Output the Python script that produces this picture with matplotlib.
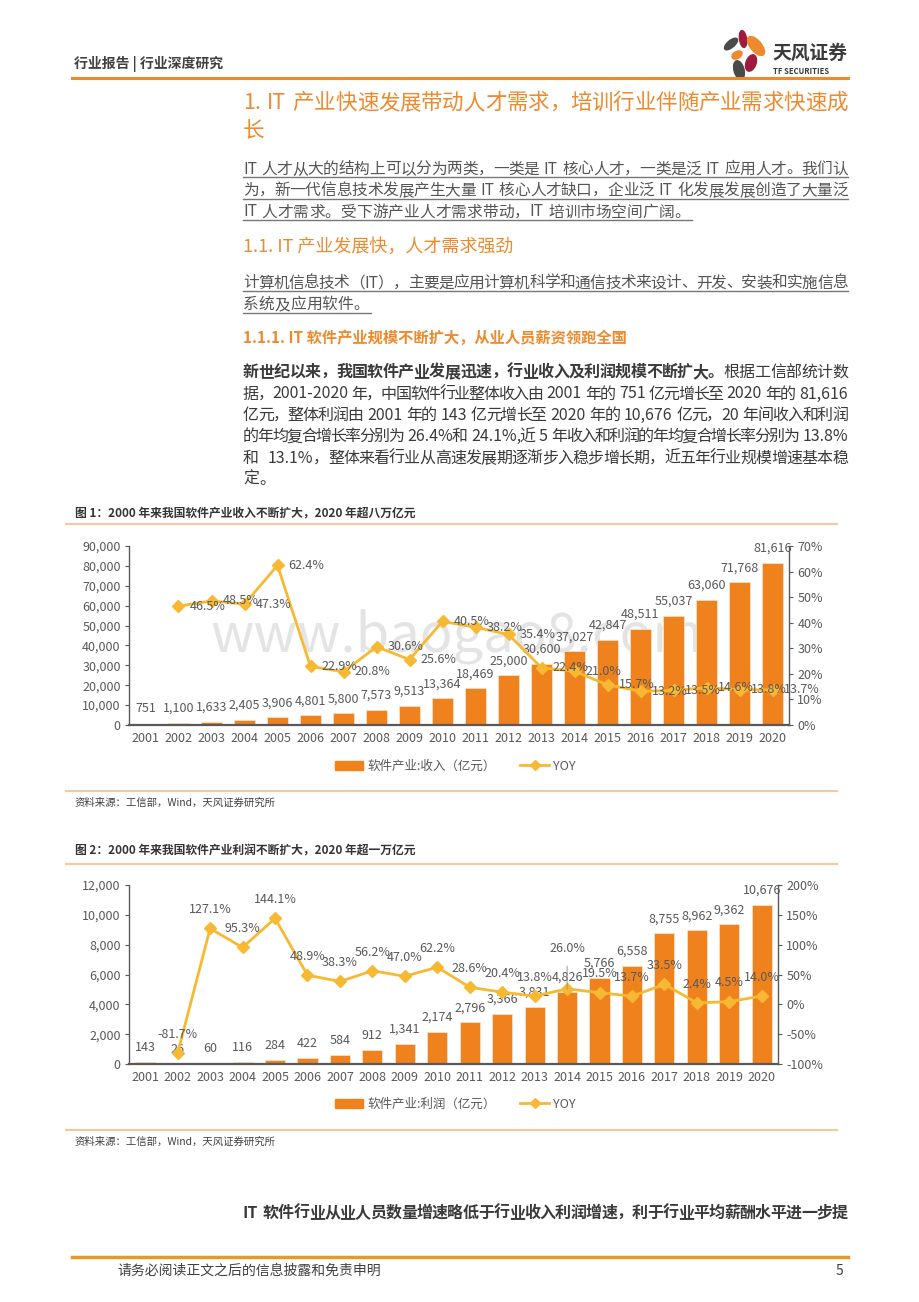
import re
import matplotlib
matplotlib.use("Agg")
import matplotlib.pyplot as plt
from matplotlib.patches import Ellipse, Patch
from matplotlib.lines import Line2D
from matplotlib.ticker import FuncFormatter, MultipleLocator

plt.rcParams['font.family'] = ['Noto Sans CJK SC', 'DejaVu Sans']

# data
years = [str(y) for y in range(2001, 2021)]
revenue = [751, 1100, 1633, 2405, 3906, 4801, 5800, 7573, 9513, 13364,
           18469, 25000, 30600, 37027, 42847, 48511, 55037, 63060, 71768, 81616]
revenue_yoy = [None, 46.5, 48.5, 47.3, 62.4, 22.9, 20.8, 30.6, 25.6, 40.5,
               38.2, 35.4, 22.4, 21.0, 15.7, 13.2, 13.5, 14.6, 13.8, 13.7]
profit = [143, 26, 60, 116, 284, 422, 584, 912, 1341, 2174,
          2796, 3366, 3831, 4826, 5766, 6558, 8755, 8962, 9362, 10676]
profit_yoy = [None, -81.7, 127.1, 95.3, 144.1, 48.9, 38.3, 56.2, 47.0, 62.2,
              28.6, 20.4, 13.8, 26.0, 19.5, 13.7, 33.5, 2.4, 4.5, 14.0]

para1 = ["IT 人才从大的结构上可以分为两类，一类是 IT 核心人才，一类是泛 IT 应用人才。我们认",
         "为，新一代信息技术发展产生大量 IT 核心人才缺口，企业泛 IT 化发展发展创造了大量泛",
         "IT 人才需求。受下游产业人才需求带动，IT 培训市场空间广阔。"]
para2 = ["计算机信息技术（IT），主要是应用计算机科学和通信技术来设计、开发、安装和实施信息",
         "系统及应用软件。"]
body = ["据，2001-2020 年，中国软件行业整体收入由 2001 年的 751 亿元增长至 2020 年的 81,616",
        "亿元，整体利润由 2001 年的 143 亿元增长至 2020 年的 10,676 亿元，20 年间收入和利润",
        "的年均复合增长率分别为 26.4%和 24.1%,近 5 年收入和利润的年均复合增长率分别为 13.8%",
        "和  13.1%，整体来看行业从高速发展期逐渐步入稳步增长期，近五年行业规模增速基本稳",
        "定。"]

ORANGE = '#EE8A2E'
BAR = '#F0821E'
LINE = '#F8B932'
GRAY = '#595959'
DARK = '#3A3A3A'
SEP = '#F6C8A0'

W, H = 920, 1302
fig = plt.figure(figsize=(9.2, 13.02), dpi=100)
renderer = fig.canvas.get_renderer()


def fx(x):
    return x / W


def fy(y):
    return 1 - y / H


def txt(x, y, s, **kw):
    kw.setdefault('va', 'center')
    return fig.text(fx(x), fy(y), s, **kw)


def hline(x0, x1, y, color, lw):
    fig.add_artist(Line2D([fx(x0), fx(x1)], [fy(y), fy(y)], color=color, lw=lw))


TOKEN = re.compile(r"[A-Za-z0-9.,%\-]+| +|.")


def text_line(x0, x1, y, parts, size, color, justify=True):
    # lay out a line token by token, spreading it to the full width
    items = []
    for s, wt in parts:
        for m in TOKEN.finditer(s):
            tok = m.group()
            if tok.isspace():
                items.append((None, size * 100 / 72 * 0.3 * len(tok)))
            else:
                t = txt(x0, y, tok, fontsize=size, color=color, fontweight=wt, ha='left')
                items.append((t, t.get_window_extent(renderer).width))
    total = sum(w for _, w in items)
    n = len([1 for t, _ in items if t is not None]) - 1
    extra = (x1 - x0 - total) / n if justify and n > 0 else 0
    x = x0
    for t, w in items:
        if t is None:
            x += w
        else:
            t.set_x(fx(x))
            x += w + extra
    return x - extra


# header
txt(74, 64, "行业报告 | 行业深度研究", fontsize=10, color='#404040', fontweight='bold')
hline(72, 848, 78, ORANGE, 2.2)

logo = fig.add_axes([fx(720), fy(84), 48 / W, 56 / H])
logo.set_xlim(720, 768)
logo.set_ylim(84, 28)
logo.axis('off')
for (cx, cy, w, h, a, c) in [(743, 39, 7, 17, -8, '#9E1B3C'),
                             (731, 44, 7, 16, 50, '#4A4A4A'),
                             (756, 46, 11, 23, -40, ORANGE),
                             (737, 55, 7, 11, 60, ORANGE),
                             (751, 63, 10, 17, 20, '#9E1B3C'),
                             (739, 70, 10, 19, -15, '#4A4A4A')]:
    logo.add_patch(Ellipse((cx, cy), w, h, angle=a, color=c))
txt(772, 53, "天风证券", fontsize=13.5, color='#3A3A3A', fontweight='bold')
txt(773, 71, "TF SECURITIES", fontsize=5.5, color='#3A3A3A', fontweight='bold')

# headings and text
text_line(243, 848, 103, [("1. IT 产业快速发展带动人才需求，培训行业伴随产业需求快速成", 'normal')], 15.5, ORANGE)
txt(243, 131, "长", fontsize=15.5, color=ORANGE)

for i, s in enumerate(para1):
    y = 169 + i * 21.5
    last = i == len(para1) - 1
    end = text_line(243, 848, y, [(s, 'normal')], 11.3, '#555555', justify=not last)
    hline(243, 848 if not last else end + 2, y + 8, '#777777', 1.0)

txt(243, 247, "1.1. IT 产业发展快，人才需求强劲", fontsize=13, color=ORANGE)

for i, s in enumerate(para2):
    y = 283 + i * 21.5
    last = i == len(para2) - 1
    end = text_line(243, 848, y, [(s, 'normal')], 11.3, '#555555', justify=not last)
    hline(243, 848 if not last else end + 2, y + 8, '#777777', 1.0)

txt(243, 338, "1.1.1. IT 软件产业规模不断扩大，从业人员薪资领跑全国", fontsize=11, color=ORANGE, fontweight='bold')

text_line(243, 848, 372, [("新世纪以来，我国软件产业发展迅速，行业收入及利润规模不断扩大。", 'bold'),
                          ("根据工信部统计数", 'normal')], 11.5, DARK)
for i, s in enumerate(body):
    text_line(243, 848, 394 + i * 21.4, [(s, 'normal')], 11.5, DARK, justify=i < len(body) - 1)

# figure 1
txt(75, 513, "图 1：2000 年来我国软件产业收入不断扩大，2020 年超八万亿元", fontsize=8.5, color='#333333', fontweight='bold')
hline(66, 837, 524, SEP, 1.5)
txt(457, 636, "www.baogao8.com", fontsize=39, color='#E4E4E4', ha='center', zorder=-1)


def style_axes(ax, axr, ylim, step, fmt, rlim, rstep, rfmt):
    ax.set_facecolor('none')
    axr.set_facecolor('none')
    ax.set_xlim(-0.5, 19.5)
    ax.set_ylim(*ylim)
    ax.yaxis.set_major_locator(MultipleLocator(step))
    ax.yaxis.set_major_formatter(FuncFormatter(fmt))
    ax.set_xticks(range(20), years)
    ax.tick_params(axis='x', length=0, pad=5, labelsize=9, labelcolor=GRAY)
    ax.tick_params(axis='y', length=3, width=0.8, pad=3, labelsize=9, labelcolor=GRAY, color=GRAY)
    axr.set_ylim(*rlim)
    axr.yaxis.set_major_locator(MultipleLocator(rstep))
    axr.yaxis.set_major_formatter(FuncFormatter(rfmt))
    axr.tick_params(axis='y', length=3, width=0.8, pad=3, labelsize=9, labelcolor=GRAY, color=GRAY)
    for a in (ax, axr):
        a.spines['top'].set_visible(False)
        for s in ('left', 'right', 'bottom'):
            a.spines[s].set_color(GRAY)
            a.spines[s].set_linewidth(1.0)
    ax.spines['right'].set_visible(False)
    axr.spines['left'].set_visible(False)
    axr.spines['bottom'].set_visible(False)
    ax.spines['bottom'].set_linewidth(1.6)


ax1 = fig.add_axes([fx(129), fy(725), 660 / W, 179 / H])
ax1r = ax1.twinx()
style_axes(ax1, ax1r, (0, 90000), 10000, lambda v, p: f'{v:,.0f}',
           (0, 70), 10, lambda v, p: f'{v:.0f}%')
ax1.bar(range(20), revenue, width=0.62, color=BAR, edgecolor='#FBE0C8', linewidth=0.6, zorder=2)
for i, v in enumerate(revenue):
    ax1.annotate(f'{v:,}', (i, v), xytext=(0, 10.5), textcoords='offset points',
                 ha='center', va='center', fontsize=9, color=GRAY)
xs = [i for i, v in enumerate(revenue_yoy) if v is not None]
ys = [v for v in revenue_yoy if v is not None]
ax1r.plot(xs, ys, color=LINE, lw=2, marker='D', ms=6, zorder=3)
for i, v in zip(xs, ys):
    ax1r.annotate(f'{v:.1f}%', (i, v), xytext=(8, 0), textcoords='offset points',
                  ha='left', va='center', fontsize=9, color=GRAY)

handles1 = [Patch(color=BAR), Line2D([], [], color=LINE, lw=2, marker='D', ms=5)]
fig.legend(handles1, ["软件产业:收入（亿元）", "YOY"], loc='center', bbox_to_anchor=(fx(455), fy(766)),
           ncol=2, frameon=False, fontsize=9, labelcolor=GRAY, handlelength=2.3,
           handletextpad=0.3, columnspacing=2.0)
hline(66, 837, 791, SEP, 1.5)
txt(75, 803, "资料来源：工信部，Wind，天风证券研究所", fontsize=7.5, color='#404040')

# figure 2
txt(75, 851, "图 2：2000 年来我国软件产业利润不断扩大，2020 年超一万亿元", fontsize=8.5, color='#333333', fontweight='bold')
hline(66, 837, 864, SEP, 1.5)

ax2 = fig.add_axes([fx(129), fy(1064), 649 / W, 179 / H])
ax2r = ax2.twinx()
style_axes(ax2, ax2r, (0, 12000), 2000, lambda v, p: f'{v:,.0f}',
           (-100, 200), 50, lambda v, p: f'{v:.0f}%')
ax2.bar(range(20), profit, width=0.62, color=BAR, edgecolor='#FBE0C8', linewidth=0.6, zorder=2)
for i, v in enumerate(profit):
    ax2.annotate(f'{v:,}', (i, v), xytext=(0, 10.5), textcoords='offset points',
                 ha='center', va='center', fontsize=9, color=GRAY)
xs = [i for i, v in enumerate(profit_yoy) if v is not None]
ys = [v for v in profit_yoy if v is not None]
ax2r.plot(xs, ys, color=LINE, lw=2, marker='D', ms=6, zorder=3)
for i, v in zip(xs, ys):
    if years[i] == '2014':
        ax2r.annotate(f'{v:.1f}%', (i, v), xytext=(0, 29), textcoords='offset points',
                      ha='center', va='center', fontsize=9, color=GRAY,
                      arrowprops=dict(arrowstyle='-', color='#888888', lw=0.6, shrinkA=6, shrinkB=0))
    else:
        ax2r.annotate(f'{v:.1f}%', (i, v), xytext=(0, 13.5), textcoords='offset points',
                      ha='center', va='center', fontsize=9, color=GRAY)

fig.legend(handles1, ["软件产业:利润（亿元）", "YOY"], loc='center', bbox_to_anchor=(fx(455), fy(1104)),
           ncol=2, frameon=False, fontsize=9, labelcolor=GRAY, handlelength=2.3,
           handletextpad=0.3, columnspacing=2.0)
hline(66, 837, 1130, SEP, 1.5)
txt(75, 1142, "资料来源：工信部，Wind，天风证券研究所", fontsize=7.5, color='#404040')

# closing sentence and footer
text_line(243, 848, 1213, [("IT 软件行业从业人员数量增速略低于行业收入利润增速，利于行业平均薪酬水平进一步提", 'bold')], 11.5, DARK)
hline(72, 848, 1257, '#E39A2C', 2.5)
txt(117, 1271, "请务必阅读正文之后的信息披露和免责申明", fontsize=10, color='#404040')
txt(843, 1271, "5", fontsize=10, color='#404040', ha='right')

fig.savefig('out.png', dpi=100)
